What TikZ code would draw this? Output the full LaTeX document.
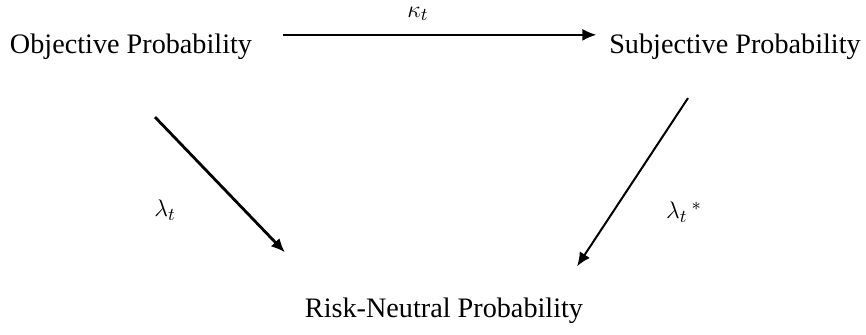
\documentclass[tikz,border=0pt]{standalone}
\usepackage{fontspec}
\setmainfont{Liberation Serif}
\usetikzlibrary{arrows.meta}
\begin{document}
\begin{tikzpicture}[x=0.5pt,y=-0.5pt,every node/.style={inner sep=0pt, outer sep=0pt, font=\fontsize{14.1}{17}\selectfont},
  lbl/.style={font=\fontsize{13}{15}\selectfont},
  arr/.style={-{Latex[length=7pt,width=6pt]}}]
\useasboundingbox (0,0) rectangle (866,335);
\node[anchor=base] (obj) at (131,54) {Objective Probability};
\node[anchor=base] (subj) at (735,54) {Subjective Probability};
\node[anchor=base] (risk) at (444,318) {Risk-Neutral Probability};
\node[lbl] (kappa) at (418,14) {$\kappa_t$};
\node[lbl] (lam) at (165,210) {$\lambda_t$};
\node[lbl] (lamstar) at (684,212) {$\lambda_t\,{}^*$};
\draw[arr,line width=0.8pt] ([shift={(31,-12.4)}]obj.east) -- ([shift={(-13,-12.4)}]subj.west);
\draw[arr,line width=1.4pt] ([shift={(24,57)}]obj.south) -- ([shift={(-159,-46)}]risk.north);
\draw[arr,line width=1pt] ([shift={(-47,38)}]subj.south) -- ([shift={(133,-32)}]risk.north);
\end{tikzpicture}
\end{document}
